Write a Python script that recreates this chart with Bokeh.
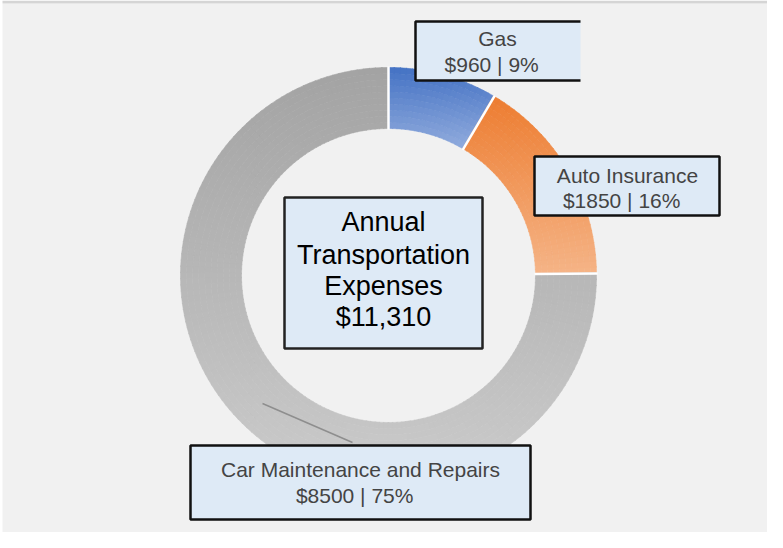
import numpy as np
from bokeh.plotting import figure
from bokeh.models import Range1d
from bokeh.embed import file_html
from bokeh.resources import INLINE
from bokeh.core.properties import value

# ---- data ----
categories = ["Gas", "Auto Insurance", "Car Maintenance and Repairs"]
amounts = [960, 1850, 8500]
pct_labels = ["9%", "16%", "75%"]
center_title = ["Annual", "Transportation", "Expenses"]

# ---- style ----
top_colors = ["#4472C4", "#ED7D31", "#A3A3A3"]
bot_colors = ["#92ACDD", "#F5B487", "#CBCBCB"]
FONT = "Liberation Sans"

W, H = 767, 532


def X(ix):
    return ix - 8


def Y(iy):
    return H - (iy - 8)


p = figure(width=W, height=H, x_range=Range1d(0, W), y_range=Range1d(0, H),
           output_backend="svg", toolbar_location=None, min_border=0)
p.axis.visible = False
p.grid.visible = False
p.outline_line_color = None
p.background_fill_color = "white"
p.border_fill_color = "white"

# background panel
p.quad(left=X(10), right=W, top=Y(11), bottom=0, fill_color="#F1F1F1", line_color=None)
p.quad(left=X(10), right=W, top=Y(8), bottom=Y(11), fill_color="#D5D5D5", line_color=None)

# donut geometry
cx, cy = X(396), Y(283)
r_out, r_in = 208, 147

total = sum(amounts)
cum = np.concatenate([[0], np.cumsum(amounts)]) / total


def hex2rgb(h):
    h = h.lstrip("#")
    return np.array([int(h[i:i + 2], 16) for i in (0, 2, 4)], dtype=float)


def rgb2hex(c):
    return "#%02x%02x%02x" % tuple(int(round(v)) for v in c)


xs0, ys0, ri, ro, sa, ea, cols = [], [], [], [], [], [], []
for k in range(len(amounts)):
    c0, c1 = cum[k], cum[k + 1]
    a_hi = np.pi / 2 - 2 * np.pi * c0
    a_lo = np.pi / 2 - 2 * np.pi * c1
    aa = np.linspace(a_lo, a_hi, 400)
    yy = np.concatenate([cy + r_out * np.sin(aa), cy + r_in * np.sin(aa)])
    ytop, ybot = yy.max(), yy.min()
    na = max(6, int(np.ceil((a_hi - a_lo) / 0.03)))
    nr = 10
    edges_a = np.linspace(a_lo, a_hi, na + 1)
    edges_r = np.linspace(r_in, r_out, nr + 1)
    ct, cb = hex2rgb(top_colors[k]), hex2rgb(bot_colors[k])
    for i in range(na):
        for j in range(nr):
            am = 0.5 * (edges_a[i] + edges_a[i + 1])
            rm = 0.5 * (edges_r[j] + edges_r[j + 1])
            ym = cy + rm * np.sin(am)
            t = (ytop - ym) / (ytop - ybot)
            xs0.append(cx)
            ys0.append(cy)
            ri.append(edges_r[j])
            ro.append(edges_r[j + 1])
            sa.append(edges_a[i])
            ea.append(edges_a[i + 1] + 0.004)
            cols.append(rgb2hex(ct + (cb - ct) * t))

p.annular_wedge(x=xs0, y=ys0, inner_radius=ri, outer_radius=ro,
                start_angle=sa, end_angle=ea, fill_color=cols, line_color=cols,
                line_width=0.6)

# white separators between slices
ang = np.pi / 2 - 2 * np.pi * cum[:-1]
p.segment(x0=cx + (r_in - 1) * np.cos(ang), y0=cy + (r_in - 1) * np.sin(ang),
          x1=cx + (r_out + 1) * np.cos(ang), y1=cy + (r_out + 1) * np.sin(ang),
          line_color="white", line_width=2.5)

# leader line for big slice label
p.segment(x0=[X(270)], y0=[Y(411)], x1=[X(360)], y1=[Y(450)], line_color="#8E8E8E", line_width=1.5)

BOX_FILL = "#DEEAF6"

# Gas label box (no right border)
p.quad(left=X(423), right=X(588), top=Y(29), bottom=Y(88), fill_color=BOX_FILL, line_color=None)
p.multi_line(xs=[[X(588), X(423), X(423), X(588)]], ys=[[Y(29), Y(29), Y(88), Y(88)]],
             line_color="#111111", line_width=2.5)
# Auto insurance box
p.quad(left=X(542), right=X(727), top=Y(164), bottom=Y(223), fill_color=BOX_FILL,
       line_color="#111111", line_width=2.5)
# Car maintenance box
p.quad(left=X(198), right=X(538), top=Y(453), bottom=Y(527), fill_color=BOX_FILL,
       line_color="#111111", line_width=2.5)
# Center box
p.quad(left=X(292), right=X(490), top=Y(205), bottom=Y(356), fill_color=BOX_FILL,
       line_color="#222222", line_width=2.5)

# label texts
label_pos = [(505, 46, 72), (635, 183, 208), (368, 477, 503)]
for k, (lx, ly1, ly2) in enumerate(label_pos):
    line2 = "$%d  |  %s" % (amounts[k], pct_labels[k])
    p.text(x=[X(lx), X(lx)], y=[Y(ly1), Y(ly2)], text=[categories[k], line2],
           text_font=value(FONT), text_font_size="21px", text_color="#444444",
           text_align="center", text_baseline="middle")

center_lines = center_title + ["${:,}".format(total)]
center_y = [229, 262, 293, 324]
p.text(x=[X(391)] * 4, y=[Y(v) for v in center_y], text=center_lines,
       text_font=value(FONT), text_font_size="27px", text_color="#000000",
       text_align="center", text_baseline="middle")

open("out.html", "w").write(file_html(p, INLINE))
